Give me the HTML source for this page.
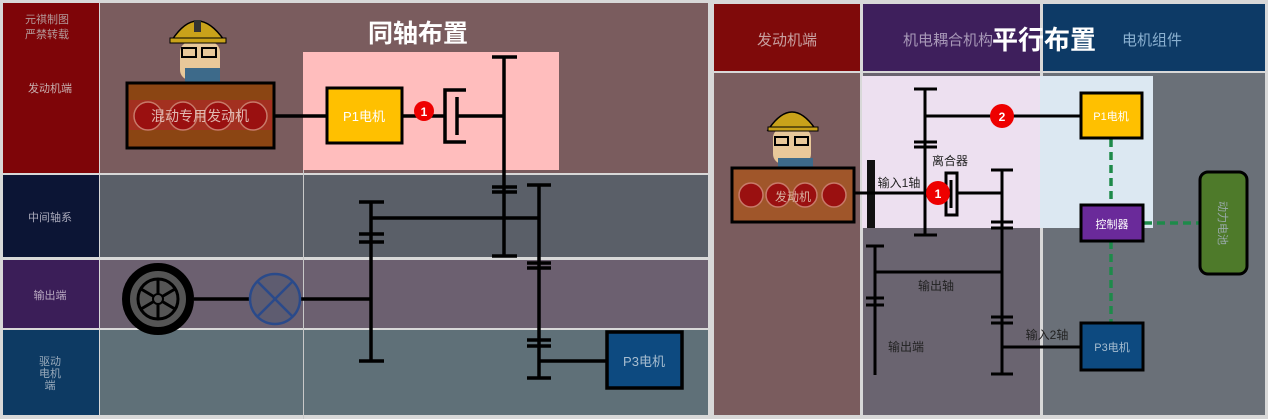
<!DOCTYPE html>
<html><head><meta charset="utf-8"><style>
html,body{margin:0;padding:0;background:#d8d8d8;width:1268px;height:419px;overflow:hidden}
text{font-family:"Liberation Sans","Noto Sans CJK SC",sans-serif}
</style></head><body>
<svg width="1268" height="419" viewBox="0 0 1268 419" xmlns="http://www.w3.org/2000/svg">
<rect x="0" y="0" width="1268" height="419" fill="#d8d8d8"/>
<!-- LEFT PANEL -->
<rect x="3" y="3" width="96" height="170" fill="#7e0508"/>
<rect x="3" y="175" width="96" height="82" fill="#0c1535"/>
<rect x="3" y="260" width="96" height="68" fill="#3b1e58"/>
<rect x="3" y="330" width="96" height="85" fill="#0d3a63"/>
<rect x="100" y="3" width="608" height="170" fill="#7a5c5e"/>
<rect x="100" y="175" width="608" height="82" fill="#5a5f68"/>
<rect x="100" y="260" width="608" height="68" fill="#6c6070"/>
<rect x="100" y="330" width="608" height="85" fill="#5f7078"/>
<line x1="303.5" y1="170" x2="303.5" y2="419" stroke="#c8c8c8" stroke-width="1"/>
<g fill="#b49a9a" font-size="11" text-anchor="middle">
<text x="47" y="23">元祺制图</text><text x="47" y="38">严禁转载</text>
</g>
<g fill="#c8b0b0" font-size="11" text-anchor="middle">
<text x="50" y="92">发动机端</text>
<text x="50" y="221" fill="#aab">中间轴系</text>
<text x="50" y="299" fill="#b8a8c0">输出端</text>
<text x="50" y="365" fill="#9ab">驱动</text><text x="50" y="377" fill="#9ab">电机</text><text x="50" y="389" fill="#9ab">端</text>
</g>
<rect x="303" y="52" width="256" height="118" fill="#ffbdbd"/>
<text x="418" y="42" fill="#fff" font-size="25" font-weight="bold" text-anchor="middle">同轴布置</text>
<!-- cartoon -->
<g>
<rect x="180" y="42" width="40" height="38" rx="10" fill="#e8c89a"/>
<path d="M172 40 Q197 2 224 40 Z" fill="#c9a21a" stroke="#000" stroke-width="1.5"/>
<rect x="170" y="38" width="56" height="5" fill="#c9a21a" stroke="#000" stroke-width="1"/>
<rect x="194" y="20" width="7" height="12" fill="#333"/>
<rect x="182" y="48" width="14" height="9" fill="none" stroke="#000" stroke-width="2"/>
<rect x="202" y="48" width="14" height="9" fill="none" stroke="#000" stroke-width="2"/>
<rect x="185" y="68" width="35" height="14" fill="#3d6a8a"/>
</g>
<!-- engine -->
<rect x="127" y="83" width="147" height="65" fill="#8b4513" stroke="#000" stroke-width="3"/>
<rect x="129" y="100" width="143" height="30" fill="#a33020"/>
<g fill="#9a1010" stroke="#c87a6a" stroke-width="1.5"><circle cx="148" cy="116" r="14"/><circle cx="183" cy="116" r="14"/><circle cx="218" cy="116" r="14"/><circle cx="253" cy="116" r="14"/></g>
<text x="200" y="121" fill="#e0b8b0" font-size="14" text-anchor="middle">混动专用发动机</text>
<g stroke="#000" stroke-width="3.5" fill="none">
<line x1="274" y1="116" x2="327" y2="116"/>
<line x1="402" y1="116" x2="444" y2="116"/>
<path d="M466 90 H445 V142 H466"/>
<line x1="457" y1="97" x2="457" y2="135"/>
<line x1="457" y1="116" x2="504" y2="116"/>
<line x1="504" y1="57" x2="504" y2="257"/>
<line x1="492" y1="57" x2="517" y2="57"/><line x1="492" y1="187" x2="517" y2="187"/><line x1="492" y1="192" x2="517" y2="192"/><line x1="492" y1="256" x2="517" y2="256"/>
<line x1="539" y1="185" x2="539" y2="379"/>
<line x1="527" y1="185" x2="551" y2="185"/><line x1="527" y1="263" x2="551" y2="263"/><line x1="527" y1="268" x2="551" y2="268"/><line x1="527" y1="340" x2="551" y2="340"/><line x1="527" y1="346" x2="551" y2="346"/><line x1="527" y1="378" x2="551" y2="378"/>
<line x1="371" y1="218" x2="539" y2="218"/>
<line x1="371" y1="202" x2="371" y2="362"/>
<line x1="359" y1="202" x2="384" y2="202"/><line x1="359" y1="234" x2="384" y2="234"/><line x1="359" y1="242" x2="384" y2="242"/><line x1="359" y1="361" x2="384" y2="361"/>
<line x1="194" y1="299" x2="250" y2="299"/>
<line x1="300" y1="299" x2="371" y2="299"/>
<line x1="539" y1="361" x2="607" y2="361"/>
</g>
<rect x="327" y="88" width="75" height="55" fill="#ffc000" stroke="#000" stroke-width="3"/>
<text x="364" y="121" fill="#fff" font-size="13" text-anchor="middle">P1电机</text>
<circle cx="424" cy="111" r="10" fill="#e00"/>
<text x="424" y="116" fill="#fff" font-size="12" font-weight="bold" text-anchor="middle">1</text>
<!-- wheel -->
<circle cx="158" cy="299" r="32" fill="#555" stroke="#000" stroke-width="8"/>
<circle cx="158" cy="299" r="20" fill="none" stroke="#000" stroke-width="3"/>
<g stroke="#000" stroke-width="3"><line x1="158" y1="279" x2="158" y2="319"/><line x1="141" y1="289" x2="175" y2="309"/><line x1="141" y1="309" x2="175" y2="289"/></g>
<circle cx="158" cy="299" r="5" fill="#555" stroke="#000" stroke-width="2"/>
<circle cx="275" cy="299" r="25" fill="#5e5c70" stroke="#2a4a8a" stroke-width="2.5"/>
<g stroke="#2a4a8a" stroke-width="2.5"><line x1="257" y1="281" x2="293" y2="317"/><line x1="257" y1="317" x2="293" y2="281"/></g>
<rect x="607" y="332" width="75" height="56" fill="#0d4a80" stroke="#000" stroke-width="3.5"/>
<text x="644" y="366" fill="#a8bed0" font-size="13" text-anchor="middle">P3电机</text>

<!-- RIGHT PANEL -->
<rect x="714" y="4" width="146" height="67" fill="#7f0a0a"/>
<rect x="863" y="4" width="177" height="67" fill="#3e1f5c"/>
<rect x="1043" y="4" width="222" height="67" fill="#0d3a66"/>
<rect x="714" y="73" width="146" height="342" fill="#7a5c5e"/>
<rect x="863" y="73" width="177" height="342" fill="#6a6470"/>
<rect x="1043" y="73" width="222" height="342" fill="#6a7078"/>
<text x="787" y="45" fill="#c8a0a0" font-size="15" text-anchor="middle">发动机端</text>
<text x="948" y="45" fill="#a898b8" font-size="15" text-anchor="middle">机电耦合机构</text>
<text x="1152" y="45" fill="#8ab0d0" font-size="15" text-anchor="middle">电机组件</text>
<text x="1044" y="49" fill="#fff" font-size="26" font-weight="bold" text-anchor="middle">平行布置</text>
<rect x="862" y="76" width="178" height="152" fill="#ede0f0"/>
<rect x="1040" y="76" width="113" height="152" fill="#dce8f2"/>
<!-- cartoon 2 -->
<g>
<rect x="773" y="128" width="38" height="36" rx="10" fill="#e8c89a"/>
<path d="M768 130 Q792 94 816 130 Z" fill="#c9a21a" stroke="#000" stroke-width="1.5"/>
<rect x="768" y="127" width="50" height="4" fill="#c9a21a" stroke="#000" stroke-width="1"/>
<rect x="775" y="137" width="13" height="8" fill="none" stroke="#000" stroke-width="2"/>
<rect x="795" y="137" width="13" height="8" fill="none" stroke="#000" stroke-width="2"/>
<rect x="778" y="158" width="35" height="9" fill="#3d6a8a"/>
</g>
<rect x="732" y="168" width="122" height="54" fill="#a0562a" stroke="#000" stroke-width="3"/>
<g fill="#9a1010" stroke="#c87a6a" stroke-width="1.5"><circle cx="751" cy="195" r="12"/><circle cx="778" cy="195" r="12"/><circle cx="805" cy="195" r="12"/><circle cx="834" cy="195" r="12"/></g>
<text x="793" y="201" fill="#d8b0a0" font-size="12" text-anchor="middle">发动机</text>
<rect x="867" y="160" width="8" height="68" fill="#111"/>
<g stroke="#000" stroke-width="3" fill="none">
<line x1="854" y1="193" x2="946" y2="193"/>
<line x1="925" y1="89" x2="925" y2="235"/>
<line x1="914" y1="89" x2="937" y2="89"/><line x1="914" y1="142" x2="937" y2="142"/><line x1="914" y1="147" x2="937" y2="147"/><line x1="914" y1="235" x2="937" y2="235"/>
<line x1="925" y1="116" x2="1081" y2="116"/>
<rect x="946" y="173" width="11" height="42"/>
<line x1="951" y1="180" x2="951" y2="208"/>
<line x1="957" y1="193" x2="1002" y2="193"/>
<line x1="1002" y1="170" x2="1002" y2="374"/>
<line x1="991" y1="170" x2="1013" y2="170"/><line x1="991" y1="222" x2="1013" y2="222"/><line x1="991" y1="228" x2="1013" y2="228"/><line x1="991" y1="317" x2="1013" y2="317"/><line x1="991" y1="323" x2="1013" y2="323"/><line x1="991" y1="374" x2="1013" y2="374"/>
<line x1="875" y1="246" x2="875" y2="375"/>
<line x1="866" y1="246" x2="884" y2="246"/><line x1="866" y1="298" x2="884" y2="298"/><line x1="866" y1="305" x2="884" y2="305"/>
<line x1="875" y1="272" x2="1002" y2="272"/>
<line x1="1002" y1="347" x2="1081" y2="347"/>
</g>
<g stroke="#1e8a4a" stroke-width="3.5" stroke-dasharray="8,5" fill="none">
<line x1="1111" y1="139" x2="1111" y2="205"/>
<line x1="1111" y1="241" x2="1111" y2="323"/>
<line x1="1144" y1="223" x2="1200" y2="223"/>
</g>
<text x="950" y="165" fill="#222" font-size="12" text-anchor="middle">离合器</text>
<text x="899" y="187" fill="#222" font-size="12" text-anchor="middle">输入1轴</text>
<text x="936" y="290" fill="#222" font-size="12" text-anchor="middle">输出轴</text>
<text x="906" y="351" fill="#222" font-size="12" text-anchor="middle">输出端</text>
<text x="1047" y="339" fill="#222" font-size="12" text-anchor="middle">输入2轴</text>
<circle cx="938" cy="193" r="12" fill="#e00"/>
<text x="938" y="198" fill="#fff" font-size="12" font-weight="bold" text-anchor="middle">1</text>
<circle cx="1002" cy="116" r="12" fill="#e00"/>
<text x="1002" y="121" fill="#fff" font-size="12" font-weight="bold" text-anchor="middle">2</text>
<rect x="1081" y="93" width="61" height="45" fill="#ffc000" stroke="#000" stroke-width="3"/>
<text x="1111" y="120" fill="#fff" font-size="11" text-anchor="middle">P1电机</text>
<rect x="1081" y="205" width="62" height="36" fill="#6a2a9a" stroke="#000" stroke-width="3"/>
<text x="1112" y="228" fill="#fff" font-size="11" text-anchor="middle">控制器</text>
<rect x="1081" y="323" width="62" height="47" fill="#0d4a80" stroke="#000" stroke-width="3"/>
<text x="1112" y="351" fill="#a8bed0" font-size="11" text-anchor="middle">P3电机</text>
<rect x="1200" y="172" width="47" height="102" rx="8" fill="#4e7a2a" stroke="#000" stroke-width="3"/>
<text x="1223" y="223" fill="#9aa" font-size="11" text-anchor="middle" transform="rotate(90 1223 223)" dy="4">动力电池</text>
</svg>
</body></html>
